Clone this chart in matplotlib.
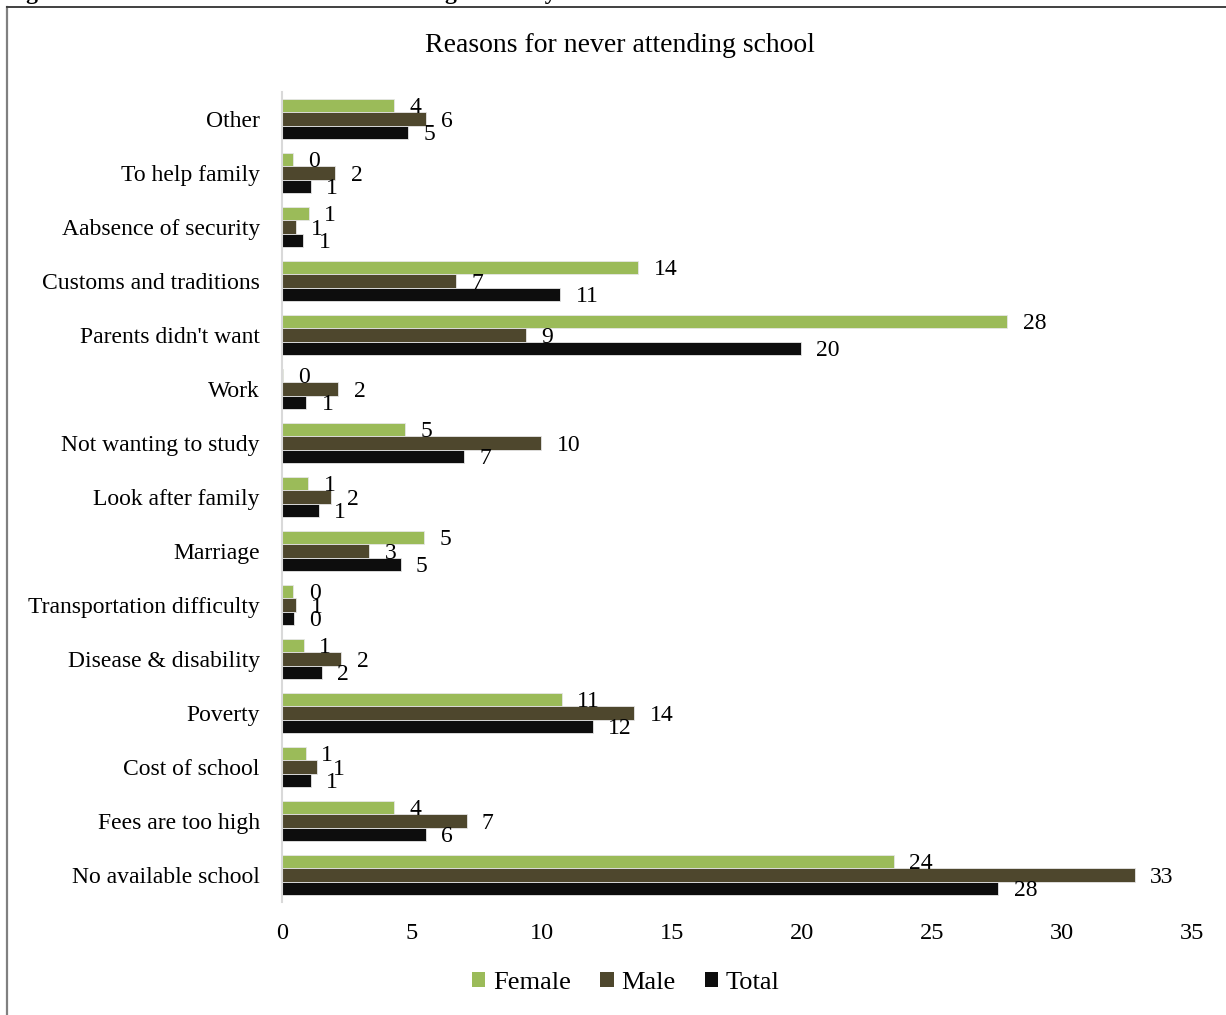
import matplotlib
matplotlib.use("Agg")
import matplotlib.pyplot as plt
import numpy as np
from matplotlib.lines import Line2D
from matplotlib.patches import Patch

plt.rcParams['font.family'] = ['Liberation Serif', 'DejaVu Serif']

# reasons, listed top to bottom
categories = ["Other", "To help family", "Aabsence of security", "Customs and traditions",
              "Parents didn't want", "Work", "Not wanting to study", "Look after family",
              "Marriage", "Transportation difficulty", "Disease & disability", "Poverty",
              "Cost of school", "Fees are too high", "No available school"]

# percentages
female = [4.3, 0.41, 1.04, 13.7, 27.9, 0.05, 4.74, 1.01, 5.47, 0.44, 0.85, 10.77, 0.92, 4.3, 23.52]
male = [5.54, 2.05, 0.53, 6.7, 9.4, 2.17, 9.97, 1.9, 3.35, 0.52, 2.28, 13.55, 1.36, 7.1, 32.8]
total = [4.85, 1.1, 0.82, 10.7, 19.96, 0.94, 7.0, 1.41, 4.56, 0.45, 1.52, 11.96, 1.1, 5.52, 27.55]

series_names = ["Female", "Male", "Total"]
colors = ["#9BBB59", "#4E472D", "#0D0D0D"]
xticks = [0, 5, 10, 15, 20, 25, 30, 35]

W, H = 1226, 1015
fig = plt.figure(figsize=(W / 100, H / 100), dpi=100)
ax = fig.add_axes([282 / W, 1 - 902 / H, (1192 - 282) / W, (902 - 92) / H])

y = np.arange(len(categories))
h = 0.25
for i, (vals, name, c) in enumerate(zip([female, male, total], series_names, colors)):
    pos = y + (i - 1) * h
    ax.barh(pos, vals, height=h, color=c, edgecolor="#e6e6e6", linewidth=0.6, label=name)
    for p, v in zip(pos, vals):
        ax.annotate(f"{int(v + 0.5)}", xy=(v, p), xytext=(11, -1.5), textcoords="offset points",
                    ha="left", va="center", fontsize=17)

ax.set_ylim(len(categories) - 0.5, -0.5)
ax.set_xlim(0, 35)
ax.set_xticks(xticks)
ax.set_xticklabels([str(t) for t in xticks], fontsize=17.5)
ax.set_yticks(y)
ax.set_yticklabels(categories, fontsize=17)
ax.tick_params(axis="both", length=0)
ax.tick_params(axis="x", pad=15)
ax.tick_params(axis="y", pad=16)
for s in ["top", "right", "bottom"]:
    ax.spines[s].set_visible(False)
ax.spines["left"].set_color("#d9d9d9")
ax.spines["left"].set_linewidth(1.5)

fig.text(620 / W, 1 - 45 / H, "Reasons for never attending school", ha="center", va="center", fontsize=20)

handles = [Patch(facecolor=c, edgecolor="none") for c in colors]
fig.legend(handles, series_names, loc="center", bbox_to_anchor=(626 / W, 1 - 983 / H), ncol=3,
           frameon=False, fontsize=19, handlelength=0.5, handleheight=0.5, handletextpad=0.3,
           columnspacing=1.1)

# outer chart frame and the caption cut off above it
fig.add_artist(Line2D([7 / W, 7 / W], [0, 1 - 7 / H], color="#808080", lw=1.6))
fig.add_artist(Line2D([7 / W, 1], [1 - 7 / H, 1 - 7 / H], color="#404040", lw=1.4))
fig.text(5 / W, 1 + 1 / H, "Figure 4.3: Main Reasons of Never attending school by sex",
         ha="left", va="baseline", fontsize=17, fontweight="bold")

fig.savefig("out.png", dpi=100)
